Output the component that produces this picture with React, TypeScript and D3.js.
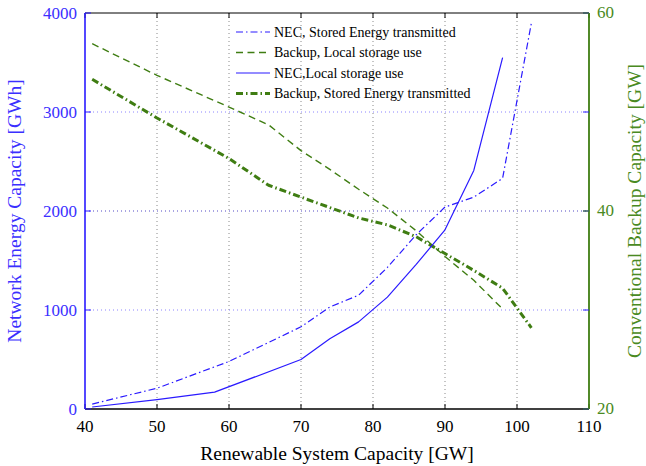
import { useRef, useEffect } from 'react';
import * as d3 from 'd3';

const W = 646, H = 466;
const M = { top: 13, right: 57, bottom: 57, left: 85 };
const IW = W - M.left - M.right;
const IH = H - M.top - M.bottom;

const BLUE = '#2a1aff';
const BLUE_TXT = '#3b2fff';
const GREEN = '#3f7d12';
const GREEN_TXT = '#4a8a22';

const X_TICKS = [40, 50, 60, 70, 80, 90, 100, 110];
const YL_TICKS = [0, 1000, 2000, 3000, 4000];
const YR_TICKS = [20, 40, 60];

// NEC, Stored Energy transmitted (left axis, GWh)
const NEC_STORED_X = [41, 50, 60, 70, 74, 78, 82, 86, 90, 94, 98, 102];
const NEC_STORED_Y = [50, 210, 480, 830, 1030, 1150, 1430, 1760, 2040, 2140, 2330, 3900];

// NEC, Local storage use (left axis, GWh)
const NEC_LOCAL_X = [41, 50, 58, 70, 74, 78, 82, 86, 90, 94, 98];
const NEC_LOCAL_Y = [20, 95, 170, 500, 710, 880, 1130, 1460, 1810, 2410, 3550];

// Backup, Local storage use (right axis, GW)
const BACKUP_LOCAL_X = [41, 50, 60, 65.5, 70, 74, 78, 82, 86, 90, 94, 98];
const BACKUP_LOCAL_Y = [56.9, 53.7, 50.5, 48.7, 46.1, 44.2, 42.2, 40.3, 38.0, 35.4, 33.0, 30.1];

// Backup, Stored Energy transmitted (right axis, GW)
const BACKUP_STORED_X = [41, 50, 60, 65.5, 70, 78, 82, 86, 90, 94, 98, 102];
const BACKUP_STORED_Y = [53.3, 49.4, 45.3, 42.6, 41.4, 39.3, 38.6, 37.4, 35.7, 34.0, 32.2, 28.2];

const LEGEND = [
  { label: 'NEC, Stored Energy transmitted', color: BLUE, width: 1.2, dash: '7 3 1.5 3' },
  { label: 'Backup, Local storage use', color: GREEN, width: 1.4, dash: '7 4.5' },
  { label: 'NEC,Local storage use', color: BLUE, width: 1.2, dash: '' },
  { label: 'Backup, Stored Energy transmitted', color: GREEN, width: 3, dash: '7 3 1.5 3' },
];

export default function App() {
  const svgRef = useRef<SVGSVGElement>(null);

  useEffect(() => {
    const svg = d3.select(svgRef.current);
    svg.selectAll('*').remove();

    const x = d3.scaleLinear().domain([40, 110]).range([M.left, M.left + IW]);
    const yl = d3.scaleLinear().domain([0, 4000]).range([M.top + IH, M.top]);
    const yr = d3.scaleLinear().domain([20, 60]).range([M.top + IH, M.top]);
    const font = '"Liberation Serif", "Times New Roman", serif';

    svg.append('rect').attr('x', 0).attr('y', 0).attr('width', W).attr('height', H).attr('fill', '#fff');

    // grid
    const grid = svg.append('g').attr('fill', 'none').attr('stroke-width', 1);
    X_TICKS.slice(1, -1).forEach(t => {
      grid.append('line').attr('x1', x(t)).attr('x2', x(t)).attr('y1', M.top).attr('y2', M.top + IH)
        .attr('stroke', '#8a8a8a').attr('stroke-dasharray', '1 3');
    });
    YR_TICKS.slice(1, -1).forEach(t => {
      grid.append('line').attr('x1', M.left).attr('x2', M.left + IW).attr('y1', yr(t)).attr('y2', yr(t))
        .attr('stroke', '#8a8a8a').attr('stroke-dasharray', '1 3');
    });
    YL_TICKS.slice(1, -1).forEach(t => {
      grid.append('line').attr('x1', M.left).attr('x2', M.left + IW).attr('y1', yl(t)).attr('y2', yl(t))
        .attr('stroke', '#8c84ff').attr('stroke-dasharray', '1 3');
    });

    // series
    const pts = (xs: number[], ys: number[]) => xs.map((v, i) => [v, ys[i]] as [number, number]);
    const lineL = d3.line<[number, number]>().x(d => x(d[0])).y(d => yl(d[1]));
    const lineR = d3.line<[number, number]>().x(d => x(d[0])).y(d => yr(d[1]));
    const draw = (d: string | null, s: typeof LEGEND[number]) =>
      svg.append('path').attr('d', d ?? '').attr('fill', 'none').attr('stroke', s.color)
        .attr('stroke-width', s.width).attr('stroke-dasharray', s.dash || null)
        .attr('stroke-linejoin', 'round');
    draw(lineR(pts(BACKUP_LOCAL_X, BACKUP_LOCAL_Y)), LEGEND[1]);
    draw(lineR(pts(BACKUP_STORED_X, BACKUP_STORED_Y)), LEGEND[3]);
    draw(lineL(pts(NEC_STORED_X, NEC_STORED_Y)), LEGEND[0]);
    draw(lineL(pts(NEC_LOCAL_X, NEC_LOCAL_Y)), LEGEND[2]);

    // axes lines + ticks
    const ax = svg.append('g');
    ax.append('line').attr('x1', M.left).attr('x2', M.left + IW).attr('y1', M.top + IH).attr('y2', M.top + IH)
      .attr('stroke', '#000').attr('stroke-width', 1.3);
    ax.append('line').attr('x1', M.left).attr('x2', M.left + IW).attr('y1', M.top).attr('y2', M.top)
      .attr('stroke', '#000').attr('stroke-width', 1);
    X_TICKS.forEach(t => {
      ax.append('line').attr('x1', x(t)).attr('x2', x(t)).attr('y1', M.top + IH).attr('y2', M.top + IH - 5)
        .attr('stroke', '#000');
      ax.append('line').attr('x1', x(t)).attr('x2', x(t)).attr('y1', M.top).attr('y2', M.top + 5)
        .attr('stroke', '#000');
      ax.append('text').attr('x', x(t)).attr('y', M.top + IH + 23).attr('text-anchor', 'middle')
        .attr('font-family', font).attr('font-size', 17).attr('fill', '#000').text(t);
    });
    ax.append('line').attr('x1', M.left).attr('x2', M.left).attr('y1', M.top).attr('y2', M.top + IH)
      .attr('stroke', BLUE).attr('stroke-width', 1.6);
    ax.append('line').attr('x1', M.left + IW).attr('x2', M.left + IW).attr('y1', M.top).attr('y2', M.top + IH)
      .attr('stroke', GREEN).attr('stroke-width', 1.8);
    YL_TICKS.forEach(t => {
      ax.append('line').attr('x1', M.left).attr('x2', M.left + 6).attr('y1', yl(t)).attr('y2', yl(t))
        .attr('stroke', BLUE);
      ax.append('line').attr('x1', M.left + IW).attr('x2', M.left + IW - 6).attr('y1', yl(t)).attr('y2', yl(t))
        .attr('stroke', BLUE);
      ax.append('text').attr('x', M.left - 8).attr('y', yl(t)).attr('dy', '0.35em').attr('text-anchor', 'end')
        .attr('font-family', font).attr('font-size', 17).attr('fill', BLUE_TXT).text(t);
    });
    YR_TICKS.forEach(t => {
      ax.append('line').attr('x1', M.left + IW).attr('x2', M.left + IW - 6).attr('y1', yr(t)).attr('y2', yr(t))
        .attr('stroke', GREEN);
      ax.append('text').attr('x', M.left + IW + 8).attr('y', yr(t)).attr('dy', '0.3em').attr('text-anchor', 'start')
        .attr('font-family', font).attr('font-size', 17).attr('fill', GREEN_TXT).text(t);
    });

    // axis titles
    svg.append('text').attr('x', M.left + IW / 2).attr('y', H - 6).attr('text-anchor', 'middle')
      .attr('font-family', font).attr('font-size', 19.5).attr('fill', '#000').text('Renewable System Capacity [GW]');
    svg.append('text').attr('transform', `translate(21,${M.top + IH / 2}) rotate(-90)`).attr('text-anchor', 'middle')
      .attr('font-family', font).attr('font-size', 19.5).attr('fill', BLUE_TXT).text('Network Energy Capacity [GWh]');
    svg.append('text').attr('transform', `translate(${W - 5},${M.top + IH / 2}) rotate(-90)`).attr('text-anchor', 'middle')
      .attr('font-family', font).attr('font-size', 19.5).attr('fill', GREEN_TXT).text('Conventional Backup Capacity [GW]');

    // legend
    const lg = svg.append('g');
    LEGEND.forEach((s, i) => {
      const ly = 32 + i * 20.5;
      lg.append('line').attr('x1', 236).attr('x2', 270).attr('y1', ly).attr('y2', ly)
        .attr('stroke', s.color).attr('stroke-width', s.width).attr('stroke-dasharray', s.dash || null);
      lg.append('text').attr('x', 274).attr('y', ly).attr('dy', '0.35em').attr('font-family', font)
        .attr('font-size', 14).attr('fill', '#000').text(s.label);
    });
  }, []);

  return (
    <svg
      ref={svgRef}
      width={W}
      height={H}
      viewBox={`0 0 ${W} ${H}`}
      style={{ position: 'absolute', left: 0, top: 0 }}
    />
  );
}
